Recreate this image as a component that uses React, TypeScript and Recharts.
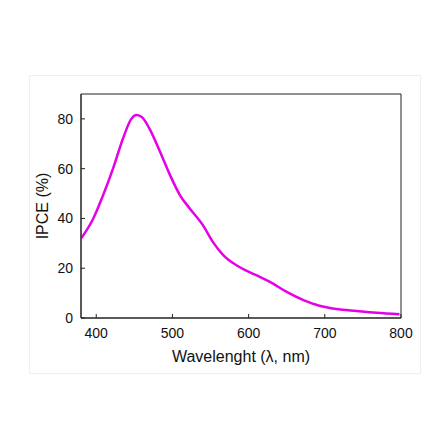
import { LineChart, Line, XAxis, YAxis, Label, ReferenceArea } from "recharts";

// IPCE spectrum
const wavelengths = [
  380, 396, 409, 422, 435, 446, 453, 460, 470, 484, 497, 510, 523, 540, 553,
  567, 584, 610, 628, 650, 672, 693, 715, 742, 768, 798,
];
const ipceValues = [
  31.9, 39.9, 49.3, 60, 72, 80, 81.6, 80.7, 76, 66.6, 57.3, 49.3, 43.9, 37.3,
  30.6, 25.2, 21.2, 17.2, 14.5, 10.5, 7.2, 4.9, 3.6, 2.8, 2.1, 1.5,
];
const xTicks = [400, 500, 600, 700, 800];
const yTicks = [0, 20, 40, 60, 80];

const data = wavelengths.map((w, i) => ({ w, ipce: ipceValues[i] }));

const FONT = "'Liberation Sans', Arial, sans-serif";
const AXIS = "#222";

export default function App() {
  return (
    <div
      style={{
        position: "absolute",
        left: 0,
        top: 0,
        width: 447,
        height: 447,
        background: "#fff",
        fontFamily: FONT,
      }}
    >
      {/* faint figure frame */}
      <div
        style={{
          position: "absolute",
          left: 29,
          top: 75,
          width: 390,
          height: 297,
          border: "1px solid #efefef",
        }}
      />
      <LineChart
        width={447}
        height={447}
        data={data}
        margin={{ top: 94, right: 46, bottom: 79, left: 21 }}
        style={{ position: "absolute", left: 0, top: 0 }}
      >
        <XAxis
          dataKey="w"
          type="number"
          domain={[380, 800]}
          ticks={xTicks}
          allowDataOverflow
          stroke={AXIS}
          tickSize={-4}
          tickMargin={14}
          height={50}
          tick={{ fill: "#111", fontSize: 14, fontFamily: FONT }}
        >
          <Label
            value="Wavelenght (λ, nm)"
            position="insideBottom"
            offset={6}
            style={{ fill: "#111", fontSize: 16, fontFamily: FONT }}
          />
        </XAxis>
        <YAxis
          domain={[0, 90]}
          ticks={yTicks}
          allowDataOverflow
          width={60}
          stroke={AXIS}
          tickSize={-4}
          tickMargin={12}
          tick={{ fill: "#111", fontSize: 14, fontFamily: FONT }}
        >
          <Label
            value="IPCE (%)"
            angle={-90}
            position="insideLeft"
            offset={21}
            style={{ fill: "#111", fontSize: 16, fontFamily: FONT, textAnchor: "middle" }}
          />
        </YAxis>
        {/* plot frame */}
        <ReferenceArea
          x1={380}
          x2={800}
          y1={0}
          y2={90}
          fill="none"
          fillOpacity={0}
          stroke={AXIS}
          strokeWidth={1}
          ifOverflow="extendDomain"
        />
        <Line
          type="monotone"
          dataKey="ipce"
          stroke="#e600e6"
          strokeWidth={2.5}
          dot={false}
          isAnimationActive={false}
        />
      </LineChart>
    </div>
  );
}
